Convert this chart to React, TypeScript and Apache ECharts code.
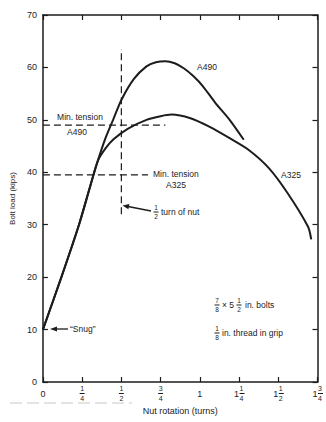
import React, { useEffect, useRef } from "react";
import * as echarts from "echarts";

// ---- data ----
const xTicks = [0, 0.25, 0.5, 0.75, 1, 1.25, 1.5, 1.75];
const xTickLabels = ["0", "1/4", "1/2", "3/4", "1", "1 1/4", "1 1/2", "1 3/4"];

// common elastic rise from "snug" (both grades)
const sharedRise: number[][] = [
  [0, 10], [0.12, 20.2], [0.23, 30], [0.3, 37.2], [0.35, 42.2],
];
const a490Tail: number[][] = [
  [0.4, 46.6], [0.45, 50.2], [0.5, 53.8], [0.58, 57.8], [0.66, 60.2],
  [0.72, 61], [0.78, 61.2], [0.84, 60.8], [0.9, 59.8], [0.96, 58.3],
  [1.02, 56.4], [1.1, 53.2], [1.19, 50], [1.28, 46.2],
];
const a325Tail: number[][] = [
  [0.4, 44.6], [0.45, 46.3], [0.54, 48.3], [0.66, 50], [0.75, 50.7],
  [0.82, 51], [0.94, 50.3], [1.06, 48.7], [1.19, 46.5], [1.31, 44.3],
  [1.44, 40.8], [1.56, 36], [1.69, 29.6], [1.71, 27.2],
];
const minTensionA490 = 49;
const minTensionA490End = 0.78;
const minTensionA325 = 39.5;
const minTensionA325End = 0.67;
const halfTurn = 0.5;
const halfTurnSpan = [32, 63.5];

const INK = "#1c1c1c";
const FONT = '"Liberation Sans", Arial, sans-serif';

function richLabel(s: string): string {
  if (s.indexOf("/") < 0) return `{z|${s}}`;
  const parts = s.split(" ");
  const whole = parts.length > 1 ? parts[0] : "";
  const [n, d] = parts[parts.length - 1].split("/");
  if (whole) {
    return `{w| }{n|${n}}\n{i|${whole}}{b| }\n{w| }{n|${d}}`;
  }
  return `{n|${n}}\n{b| }\n{n|${d}}`;
}

function txt(x: number, y: number, text: string, size = 8.5, align = "center") {
  return {
    type: "text",
    x,
    y,
    silent: true,
    style: {
      text,
      fill: INK,
      font: `${size}px ${FONT}`,
      textAlign: align,
      align,
      textVerticalAlign: "middle",
      verticalAlign: "middle",
    },
  };
}

function frac(x: number, yMid: number, n: string, d: string) {
  return [
    txt(x, yMid - 4.5, n, 6.5),
    { type: "rect", silent: true, shape: { x: x - 2.5, y: yMid - 0.5, width: 5, height: 1 }, style: { fill: INK } },
    txt(x, yMid + 4.5, d, 6.5),
  ];
}

export default function App() {
  const ref = useRef<HTMLDivElement>(null);
  useEffect(() => {
    if (!ref.current) return;
    const chart = echarts.init(ref.current, null, { renderer: "svg" });
    const axisLine = { show: true, onZero: false, lineStyle: { color: INK, width: 1.5 } };
    const tick = { show: true, inside: true, length: 5, lineStyle: { color: INK, width: 1.2 } };
    const dashed = { color: INK, width: 1.2, type: [7, 4] as any };
    const option: any = {
      animation: false,
      backgroundColor: "#ffffff",
      grid: { left: 41, right: 6, top: 15, bottom: 40, containLabel: false },
      xAxis: [
        {
          type: "value",
          min: 0,
          max: 1.75,
          interval: 0.25,
          position: "bottom",
          axisLine,
          axisTick: tick,
          splitLine: { show: false },
          name: "Nut rotation (turns)",
          nameLocation: "middle",
          nameGap: 21,
          nameTextStyle: { color: INK, fontSize: 9, fontFamily: FONT },
          axisLabel: {
            margin: 3,
            color: INK,
            fontFamily: FONT,
            showMinLabel: true,
            showMaxLabel: true,
            hideOverlap: false,
            formatter: (v: number) => {
              const i = xTicks.findIndex((t) => Math.abs(t - v) < 1e-6);
              return i < 0 ? "" : richLabel(xTickLabels[i]);
            },
            rich: {
              z: { fontSize: 9, lineHeight: 17, fontFamily: FONT, color: INK, align: "center" },
              n: { fontSize: 7, lineHeight: 7, width: 5, fontFamily: FONT, color: INK, align: "center" },
              w: { fontSize: 7, lineHeight: 7, width: 5, fontFamily: FONT, color: INK, align: "center" },
              b: { fontSize: 2, lineHeight: 3, width: 5, height: 1, backgroundColor: INK, align: "center" },
              i: { fontSize: 9, lineHeight: 3, width: 6, fontFamily: FONT, color: INK, align: "center" },
            },
          },
        },
        {
          type: "value",
          min: 0,
          max: 1.75,
          interval: 0.25,
          position: "top",
          axisLine,
          axisTick: tick,
          axisLabel: { show: false },
          splitLine: { show: false },
        },
      ],
      yAxis: [
        {
          type: "value",
          min: 0,
          max: 70,
          interval: 10,
          position: "left",
          axisLine,
          axisTick: tick,
          splitLine: { show: false },
          axisLabel: { color: INK, fontSize: 9, fontFamily: FONT, margin: 6 },
          name: "Bolt load (kips)",
          nameLocation: "middle",
          nameGap: 24,
          nameTextStyle: { color: INK, fontSize: 8, fontFamily: FONT },
        },
        {
          type: "value",
          min: 0,
          max: 70,
          interval: 10,
          position: "right",
          axisLine,
          axisTick: tick,
          axisLabel: { show: false },
          splitLine: { show: false },
        },
      ],
      series: [
        {
          name: "A490",
          type: "line",
          data: [...sharedRise, ...a490Tail],
          showSymbol: false,
          smooth: 0.25,
          lineStyle: { color: INK, width: 2 },
          silent: true,
        },
        {
          name: "A325",
          type: "line",
          data: [...sharedRise, ...a325Tail],
          showSymbol: false,
          smooth: 0.25,
          lineStyle: { color: INK, width: 2 },
          silent: true,
        },
        {
          name: "Min. tension A490",
          type: "line",
          data: [[0, minTensionA490], [minTensionA490End, minTensionA490]],
          showSymbol: false,
          lineStyle: dashed,
          silent: true,
        },
        {
          name: "Min. tension A325",
          type: "line",
          data: [[0, minTensionA325], [minTensionA325End, minTensionA325]],
          showSymbol: false,
          lineStyle: dashed,
          silent: true,
        },
        {
          name: "1/2 turn of nut",
          type: "line",
          data: [[halfTurn, halfTurnSpan[0]], [halfTurn, halfTurnSpan[1]]],
          showSymbol: false,
          lineStyle: dashed,
          silent: true,
        },
      ],
      graphic: {
        elements: [
          txt(80, 117, "Min. tension", 8.5),
          txt(77, 132, "A490", 8.5),
          txt(153, 174, "Min. tension", 8.5, "left"),
          txt(176, 185, "A325", 8.5),
          txt(207, 67, "A490", 8.5),
          txt(291, 175, "A325", 8.5),
          // 1/2 turn of nut
          ...frac(156, 212, "1", "2"),
          txt(161, 212, "turn of nut", 8.5, "left"),
          { type: "line", silent: true, shape: { x1: 151, y1: 211, x2: 128, y2: 206.5 }, style: { stroke: INK, lineWidth: 1.3 } },
          { type: "polygon", silent: true, shape: { points: [[122.5, 205.5], [129.4, 204], [128.4, 209.2]] }, style: { fill: INK } },
          // Snug
          { type: "line", silent: true, shape: { x1: 68, y1: 329, x2: 55, y2: 329 }, style: { stroke: INK, lineWidth: 1.3 } },
          { type: "polygon", silent: true, shape: { points: [[50, 329], [57, 326.5], [57, 331.5]] }, style: { fill: INK } },
          txt(70, 329, "\u201cSnug\u201d", 8.5, "left"),
          // bolt description
          ...frac(217, 305, "7", "8"),
          txt(222, 305, "\u00d7 5", 8.5, "left"),
          ...frac(239, 305, "1", "2"),
          txt(245, 305, "in. bolts", 8.5, "left"),
          ...frac(217, 333, "1", "8"),
          txt(222, 333, "in. thread in grip", 8.5, "left"),
          // faint scan artefact
          { type: "line", silent: true, shape: { x1: 10, y1: 403, x2: 132, y2: 403 }, style: { stroke: "#c8c8c8", lineWidth: 1, lineDash: [12, 5] } },
        ],
      },
    };
    chart.setOption(option);
    return () => chart.dispose();
  }, []);
  return (
    <div
      ref={ref}
      style={{ position: "fixed", left: 0, top: 0, width: 326, height: 422, background: "#fff" }}
    />
  );
}
